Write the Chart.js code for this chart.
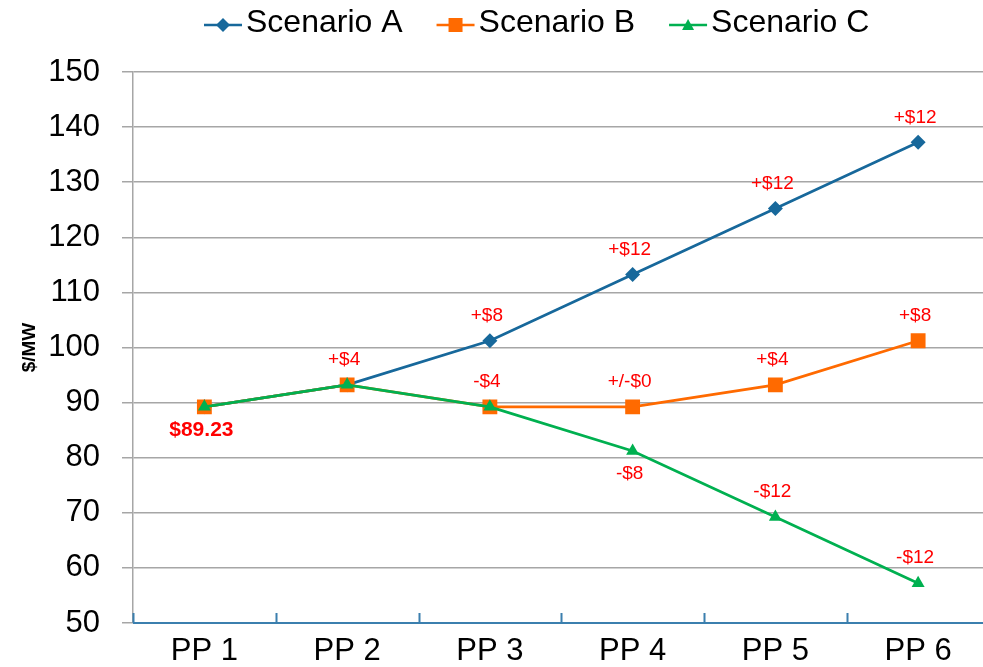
<!DOCTYPE html>
<html>
<head>
<meta charset="utf-8">
<script src="https://cdn.jsdelivr.net/npm/chart.js@4/dist/chart.umd.min.js"></script>
<style>
  html, body { margin: 0; padding: 0; background: #fff; overflow: hidden; }
  #wrap { position: relative; width: 1000px; height: 667px; }
</style>
</head>
<body>
<div id="wrap"><canvas id="myChart"></canvas></div>
<script>
// データ
const categories = ['PP 1', 'PP 2', 'PP 3', 'PP 4', 'PP 5', 'PP 6'];
const scenarioA = [89.23, 93.23, 101.23, 113.23, 125.23, 137.23];
const scenarioB = [89.23, 93.23, 89.23, 89.23, 93.23, 101.23];
const scenarioC = [89.23, 93.23, 89.23, 81.23, 69.23, 57.23];
const labelsA = [null, null, '+$8', '+$12', '+$12', '+$12'];
const labelsB = [null, '+$4', '-$4', '+/-$0', '+$4', '+$8'];
const labelsC = ['$89.23', null, null, '-$8', '-$12', '-$12'];
const yTicks = [50, 60, 70, 80, 90, 100, 110, 120, 130, 140, 150];

const FONT = '"Liberation Sans", Arial, sans-serif';
const BLUE = '#17689b';
const ORANGE = '#ff6a00';
const GREEN = '#00b050';

// 点の形を描く（凡例用）
function marker(ctx, style, x, y, color) {
    ctx.fillStyle = color;
    ctx.beginPath();
    if (style === 'rectRot') {
        ctx.moveTo(x, y - 7); ctx.lineTo(x + 7, y); ctx.lineTo(x, y + 7); ctx.lineTo(x - 7, y);
    } else if (style === 'rect') {
        ctx.rect(x - 7, y - 7, 14, 14);
    } else {
        ctx.moveTo(x, y - 6); ctx.lineTo(x + 6, y + 5); ctx.lineTo(x - 6, y + 5);
    }
    ctx.closePath();
    ctx.fill();
}

const customLegend = {
    id: 'customLegend',
    afterDraw(chart) {
        const ctx = chart.ctx;
        ctx.save();
        ctx.font = '32px ' + FONT;
        ctx.textBaseline = 'middle';
        let x = 204;
        chart.data.datasets.forEach(ds => {
            ctx.strokeStyle = ds.borderColor;
            ctx.lineWidth = 2.5;
            ctx.beginPath();
            ctx.moveTo(x, 25);
            ctx.lineTo(x + 38, 25);
            ctx.stroke();
            marker(ctx, ds.pointStyle, x + 19, 25, ds.borderColor);
            ctx.fillStyle = '#000';
            ctx.textAlign = 'left';
            ctx.fillText(ds.label, x + 42, 23);
            x += 42 + ctx.measureText(ds.label).width + 34;
        });
        ctx.restore();
    }
};

// x軸の線と内向きの目盛り
const xAxisLine = {
    id: 'xAxisLine',
    beforeDatasetsDraw(chart) {
        const ctx = chart.ctx;
        const a = chart.chartArea;
        const n = categories.length;
        ctx.save();
        ctx.strokeStyle = '#3b7fae';
        ctx.lineWidth = 2;
        ctx.beginPath();
        ctx.moveTo(a.left, a.bottom);
        ctx.lineTo(a.right, a.bottom);
        for (let i = 0; i <= n; i++) {
            const x = Math.round(a.left + i * (a.right - a.left) / n) + 0.5;
            ctx.moveTo(x, a.bottom);
            ctx.lineTo(x, a.bottom - 10);
        }
        ctx.stroke();
        ctx.restore();
    }
};

// 値ラベル
const pointLabels = {
    id: 'pointLabels',
    afterDatasetsDraw(chart) {
        const ctx = chart.ctx;
        ctx.save();
        ctx.fillStyle = '#ff0000';
        ctx.textAlign = 'center';
        ctx.textBaseline = 'middle';
        chart.data.datasets.forEach((ds, di) => {
            const meta = chart.getDatasetMeta(di);
            ds.valueLabels.forEach((txt, i) => {
                if (!txt) return;
                const p = meta.data[i];
                const below = ds.labelBelow.includes(i);
                const bold = txt.charAt(0) === '$';
                ctx.font = (bold ? 'bold 21px ' : '19px ') + FONT;
                ctx.fillText(txt, p.x - 3, below ? p.y + 23 : p.y - 25);
            });
        });
        ctx.restore();
    }
};

const ctx = document.getElementById('myChart');

new Chart(ctx, {
    type: 'line',
    data: {
        labels: categories,
        datasets: [
            {
                label: 'Scenario A',
                data: scenarioA,
                valueLabels: labelsA,
                labelBelow: [],
                order: 3,
                borderColor: BLUE,
                backgroundColor: BLUE,
                borderWidth: 2.75,
                pointStyle: 'rectRot',
                pointRadius: 7.5,
                pointHoverRadius: 7.5,
                pointBorderWidth: 0
            },
            {
                label: 'Scenario B',
                data: scenarioB,
                valueLabels: labelsB,
                labelBelow: [],
                order: 2,
                borderColor: ORANGE,
                backgroundColor: ORANGE,
                borderWidth: 2.75,
                pointStyle: 'rect',
                pointRadius: 10.5,
                pointHoverRadius: 10.5,
                pointBorderWidth: 0
            },
            {
                label: 'Scenario C',
                data: scenarioC,
                valueLabels: labelsC,
                labelBelow: [0, 3],
                order: 1,
                borderColor: GREEN,
                backgroundColor: GREEN,
                borderWidth: 2.75,
                pointStyle: 'triangle',
                pointRadius: 7.5,
                pointHoverRadius: 7.5,
                pointBorderWidth: 0
            }
        ]
    },
    options: {
        responsive: true,
        maintainAspectRatio: false,
        animation: false,
        layout: { padding: { top: 72, right: 10, left: 0, bottom: 0 } },
        plugins: {
            legend: { display: false },
            tooltip: { enabled: false }
        },
        scales: {
            x: {
                offset: true,
                grid: { display: false, drawTicks: false },
                border: { display: false },
                ticks: {
                    color: '#000',
                    font: { family: FONT, size: 31 },
                    padding: 10,
                    maxRotation: 0
                },
                afterFit(scale) { scale.height = 44; }
            },
            y: {
                min: 50,
                max: 150,
                afterBuildTicks(scale) { scale.ticks = yTicks.map(v => ({ value: v })); },
                grid: { color: '#a6a6a6', lineWidth: 1.5, tickLength: 11 },
                border: { color: '#a6a6a6', width: 1.5 },
                ticks: {
                    color: '#000',
                    font: { family: FONT, size: 31 },
                    padding: 22
                },
                title: {
                    display: true,
                    text: '$/MW',
                    color: '#000',
                    font: { family: FONT, size: 19, weight: 'bold' },
                    padding: { top: 18, bottom: 0 }
                },
                afterFit(scale) { scale.width = 133; }
            }
        }
    },
    plugins: [customLegend, xAxisLine, pointLabels]
});
</script>
</body>
</html>
